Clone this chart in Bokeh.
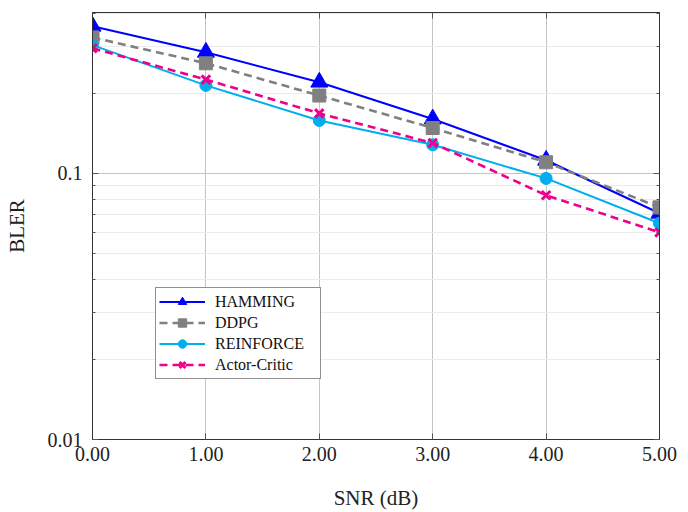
from bokeh.plotting import figure
from bokeh.models import (LogAxis, LinearAxis, FixedTicker, Range1d, Legend, LegendItem)
from bokeh.embed import file_html
from bokeh.resources import INLINE

snr = [0, 1, 2, 3, 4, 5]
hamming = [0.357, 0.285, 0.220, 0.160, 0.112, 0.0708]
ddpg = [0.324, 0.259, 0.196, 0.148, 0.110, 0.0745]
reinforce = [0.303, 0.214, 0.158, 0.128, 0.0957, 0.0649]
actor_critic = [0.295, 0.225, 0.168, 0.130, 0.0827, 0.0600]

x_ticks = [0, 1, 2, 3, 4, 5]
x_tick_labels = ["0.00", "1.00", "2.00", "3.00", "4.00", "5.00"]
y_ticks = [0.01, 0.1]
y_tick_labels = ["0.01", "0.1"]
y_minor = [0.02, 0.03, 0.04, 0.05, 0.06, 0.07, 0.08, 0.09, 0.2, 0.3, 0.4]

FONT = "Liberation Serif"

p = figure(frame_width=567, frame_height=427, y_axis_type="log",
           x_range=Range1d(0, 5), y_range=Range1d(0.01, 0.402),
           output_backend="svg", toolbar_location=None,
           min_border_left=92, min_border_top=12, min_border_right=20, min_border_bottom=60)

p.outline_line_color = "#333333"
p.outline_line_width = 1

yt = FixedTicker(ticks=y_ticks, minor_ticks=y_minor)
xt = FixedTicker(ticks=x_ticks, minor_ticks=[])

xa = p.xaxis[0]
xa.ticker = xt
xa.major_label_overrides = {t: l for t, l in zip(x_ticks, x_tick_labels)}
xa.axis_label = "SNR (dB)"
ya = p.yaxis[0]
ya.ticker = yt
ya.major_label_overrides = {t: l for t, l in zip(y_ticks, y_tick_labels)}
ya.axis_label = "BLER"

for ax in (xa, ya):
    ax.axis_line_color = "#333333"
    ax.major_tick_in = 6
    ax.major_tick_out = 0
    ax.minor_tick_in = 3
    ax.minor_tick_out = 0
    ax.major_tick_line_color = "#555555"
    ax.minor_tick_line_color = "#555555"
    ax.major_label_text_font = FONT
    ax.major_label_text_font_size = "20px"
    ax.major_label_text_color = "#222222"
    ax.axis_label_text_font = FONT
    ax.axis_label_text_font_size = "21px"
    ax.axis_label_text_font_style = "normal"
    ax.axis_label_text_color = "#222222"
xa.major_label_standoff = 7
xa.axis_label_standoff = 22
ya.major_label_standoff = 10
ya.axis_label_standoff = 16

ra = LogAxis(ticker=yt, major_label_text_color=None, major_tick_in=6, major_tick_out=0,
             minor_tick_in=3, minor_tick_out=0, axis_line_color="#333333",
             major_tick_line_color="#555555", minor_tick_line_color="#555555",
             major_label_text_font_size="1px", major_label_standoff=0)
ta = LinearAxis(ticker=xt, major_label_text_color=None, major_tick_in=6, major_tick_out=0,
                axis_line_color="#333333", major_tick_line_color="#555555",
                major_label_text_font_size="1px", major_label_standoff=0)
p.add_layout(ra, "right")
p.add_layout(ta, "above")

p.xgrid.ticker = xt
p.ygrid.ticker = yt
p.xgrid.grid_line_color = "#c4c4c4"
p.ygrid.grid_line_color = "#c4c4c4"
p.ygrid.minor_grid_line_color = "#ebebeb"

l1 = p.line(snr, hamming, line_color="#0000ff", line_width=2)
s1 = p.scatter(snr, hamming, marker="triangle", size=17, fill_color="#0000ff", line_color="#0000ff")
l2 = p.line(snr, ddpg, line_color="#808080", line_width=2.6, line_dash="8 5")
s2 = p.scatter(snr, ddpg, marker="square", size=13, fill_color="#808080", line_color="#808080")
l3 = p.line(snr, reinforce, line_color="#00aeef", line_width=2)
s3 = p.scatter(snr, reinforce, marker="circle", size=12, fill_color="#00aeef", line_color="#00aeef")
l4 = p.line(snr, actor_critic, line_color="#ec008c", line_width=2.6, line_dash="8 5")
s4 = p.scatter(snr, actor_critic, marker="x", size=12, line_color="#ec008c", line_width=3)

legend = Legend(items=[
    LegendItem(label="HAMMING", renderers=[l1, s1]),
    LegendItem(label="DDPG", renderers=[l2, s2]),
    LegendItem(label="REINFORCE", renderers=[l3, s3]),
    LegendItem(label="Actor-Critic", renderers=[l4, s4]),
], location=(63, 60))
legend.label_text_font = FONT
legend.label_text_font_size = "16px"
legend.label_text_color = "#111111"
legend.border_line_color = "#222222"
legend.border_line_width = 1
legend.background_fill_alpha = 1
legend.glyph_width = 46
legend.glyph_height = 21
legend.label_height = 21
legend.spacing = 0
legend.padding = 3
legend.margin = 0
legend.label_standoff = 10
legend.label_width = 102
p.add_layout(legend, "center")

open("out.html", "w").write(file_html(p, INLINE))
